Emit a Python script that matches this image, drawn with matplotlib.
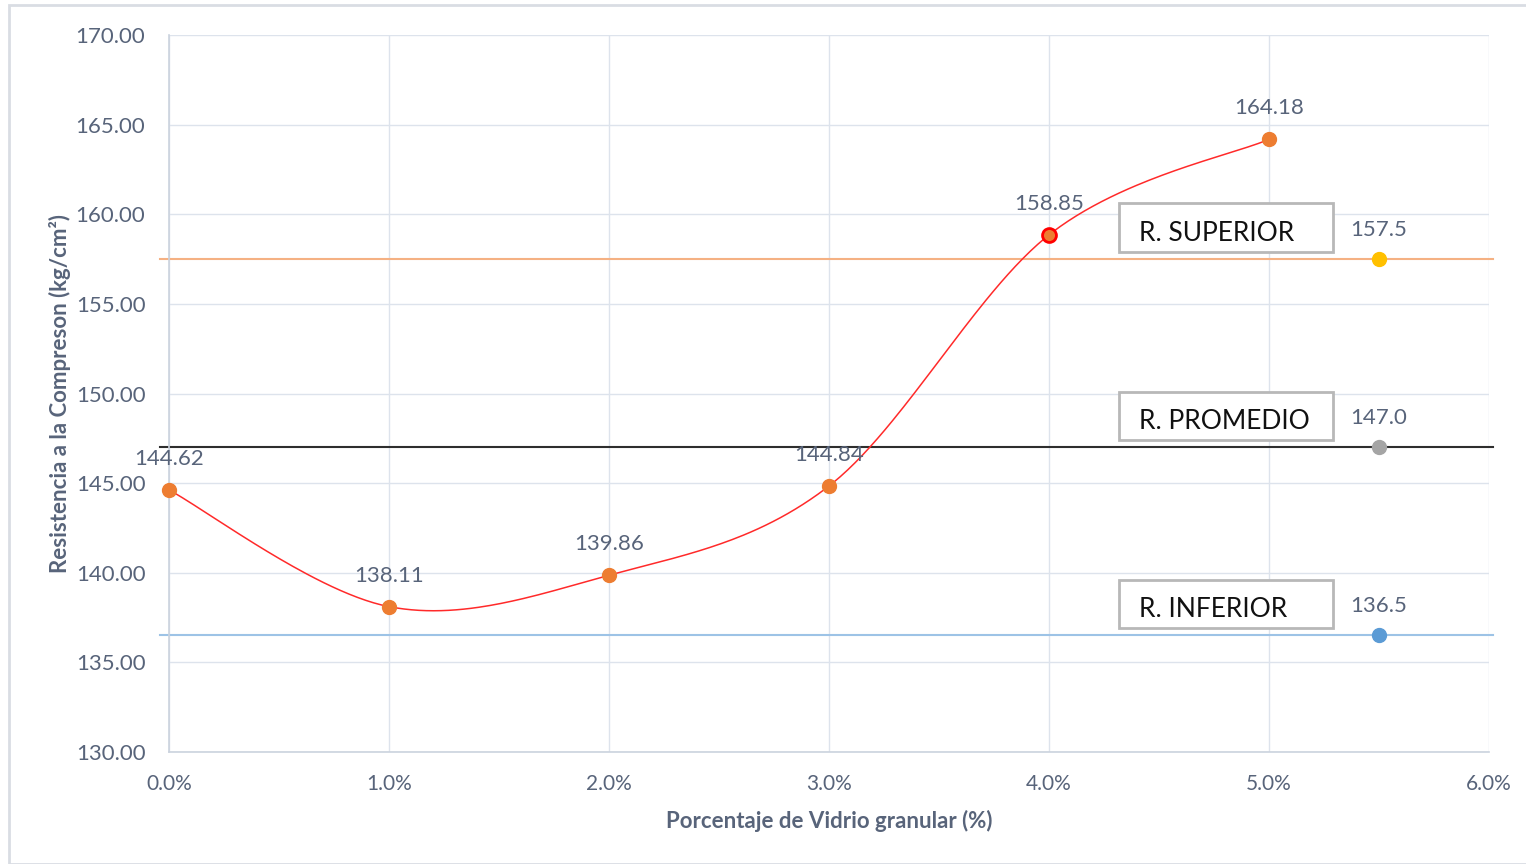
import numpy as np
import matplotlib.pyplot as plt
from matplotlib.patches import Rectangle

# glass content (%) and compressive strength (kg/cm2)
pct = [0.0, 1.0, 2.0, 3.0, 4.0, 5.0]
strength = [144.62, 138.11, 139.86, 144.84, 158.85, 164.18]

# reference limits
ref_names = ['R. SUPERIOR', 'R. PROMEDIO', 'R. INFERIOR']
ref_values = [157.5, 147.0, 136.5]
ref_x = 5.5

plt.rcParams['font.family'] = ['Lato', 'DejaVu Sans']

tick_col = '#58647a'
grid_col = '#dde3ec'


def smooth(xs, ys, n=60):
    # bezier smoothing through every point, as spreadsheet "smoothed line"
    p = np.column_stack([xs, ys]).astype(float)
    pts = np.vstack([p[0], p, p[-1]])
    out = []
    t = np.linspace(0, 1, n)[:, None]
    for i in range(1, len(pts) - 2):
        p0, p3 = pts[i], pts[i + 1]
        c1 = p0 + (pts[i + 1] - pts[i - 1]) / 6
        c2 = p3 - (pts[i + 2] - pts[i]) / 6
        seg = ((1 - t) ** 3) * p0 + 3 * ((1 - t) ** 2) * t * c1 + 3 * (1 - t) * t ** 2 * c2 + t ** 3 * p3
        out.append(seg)
    s = np.vstack(out)
    return s[:, 0], s[:, 1]


fig = plt.figure(figsize=(15.26, 8.64), dpi=100)
fig.patches.append(Rectangle((9 / 1526, 0), 1.0, 1 - 5 / 864, transform=fig.transFigure,
                             fill=False, edgecolor='#d9dde3', linewidth=2))
ax = fig.add_axes([169 / 1526, 1 - 752 / 864, 1320 / 1526, 717 / 864])

ax.set_xlim(0, 6)
ax.set_ylim(130, 170)
ax.set_xticks(np.arange(0, 7, 1))
ax.set_xticklabels([f'{v:.1f}%' for v in range(7)])
ax.set_yticks(np.arange(130, 171, 5))
ax.set_yticklabels([f'{v:.2f}' for v in range(130, 171, 5)])
ax.grid(True, color=grid_col, linewidth=1)
ax.set_axisbelow(True)
for s in ['top', 'right']:
    ax.spines[s].set_visible(False)
for s in ['left', 'bottom']:
    ax.spines[s].set_color('#cbd3de')
    ax.spines[s].set_linewidth(1.2)
ax.tick_params(length=0, colors=tick_col)
ax.tick_params(axis='x', labelsize=15, pad=16)
ax.tick_params(axis='y', labelsize=16, pad=17)

# reference lines with their boxes
line_cols = ['#f5b183', '#2e2e2e', '#9dc3e6']
dot_cols = ['#ffc000', '#a5a5a5', '#5b9bd5']
for name, val, lc, dc in zip(ref_names, ref_values, line_cols, dot_cols):
    ax.plot([-0.04, 6.02], [val, val], color=lc, linewidth=1.5, clip_on=False, zorder=2)
    ax.plot(ref_x, val, 'o', color=dc, markersize=10, zorder=4)
    ax.annotate(f'{val:.1f}', (ref_x, val), xytext=(0, 14), textcoords='offset points',
                ha='center', va='bottom', fontsize=16, color=tick_col)
    ax.add_patch(Rectangle((4.32, val + 0.42), 0.97, 2.68, facecolor='white',
                           edgecolor='#b8b8b8', linewidth=2, zorder=6))
    ax.text(4.41, val + 1.45, name, ha='left', va='center', fontsize=19,
            color='#111111', zorder=7)

# strength curve
sx, sy = smooth(pct, strength)
ax.plot(sx, sy, color='#ff2a2a', linewidth=1.1, zorder=3)
edge = ['#ed7d31'] * len(pct)
edge[4] = '#ff0000'
for x, y, ec in zip(pct, strength, edge):
    ax.plot(x, y, 'o', color='#ed7d31', markeredgecolor=ec,
            markeredgewidth=2 if ec == '#ff0000' else 1, markersize=10, zorder=5, clip_on=False)
    ax.annotate(f'{y:.2f}', (x, y), xytext=(0, 15), textcoords='offset points',
                ha='center', va='bottom', fontsize=16, color=tick_col)

ax.set_xlabel('Porcentaje de Vidrio granular (%)', fontsize=16, fontweight='bold',
              color=tick_col)
ax.xaxis.set_label_coords(0.5, -0.081)
ax.set_ylabel('Resistencia a la Compreson (kg/cm²)', fontsize=16, fontweight='bold',
              color=tick_col)
ax.yaxis.set_label_coords(-0.074, 0.5)

fig.savefig('out.png', dpi=100, facecolor='white')
